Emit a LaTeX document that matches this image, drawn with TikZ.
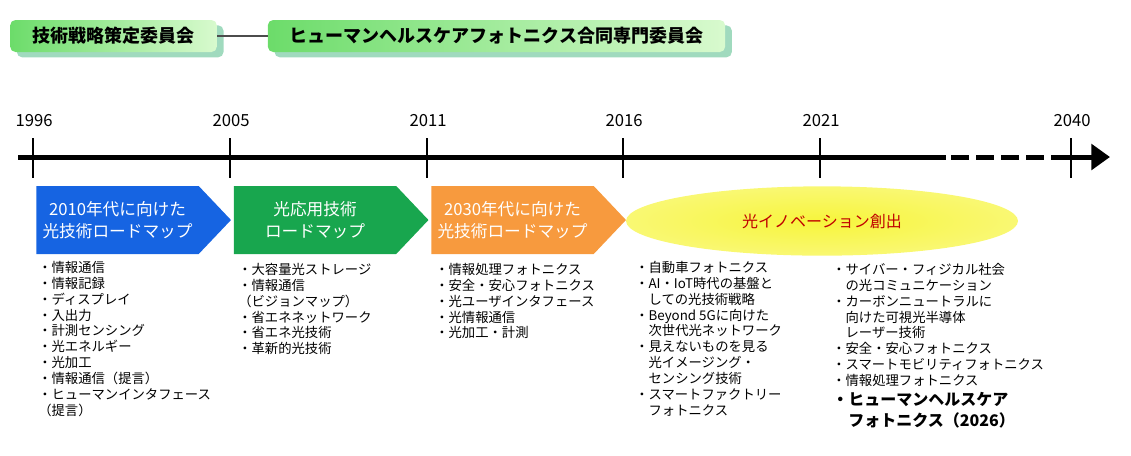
\documentclass[tikz,border=0pt]{standalone}
\usepackage{fontspec}
\setmainfont{Noto Sans CJK JP}
\usetikzlibrary{arrows.meta,positioning,shapes.geometric,shapes.symbols,shadows}

\definecolor{roadblue}{RGB}{22,100,226}
\definecolor{roadgreen}{RGB}{24,166,78}
\definecolor{roadorange}{RGB}{247,154,62}
\definecolor{boxgreenL}{RGB}{108,220,106}
\definecolor{boxgreenR}{RGB}{216,250,206}
\definecolor{boxshadow}{RGB}{160,218,190}
\definecolor{innoyellow}{RGB}{247,245,60}
\definecolor{innored}{RGB}{192,0,0}

\newcommand{\contind}{\phantom{・}}

\begin{document}
\begin{tikzpicture}[
        x=0.75pt, y=-0.75pt,
        committee/.style={rectangle, rounded corners=4pt, left color=boxgreenL, right color=boxgreenR,
            drop shadow={fill=boxshadow, opacity=1, shadow xshift=5pt, shadow yshift=-4pt},
            minimum height=24pt, inner sep=0pt, font=\fontsize{13.5}{16}\selectfont\bfseries},
        roadmap/.style={signal, signal to=east, signal pointer angle=93, minimum width=146pt,
            minimum height=51pt, inner sep=0pt, text=white, align=center,
            font=\fontsize{12.5}{17}\selectfont},
        yearlabel/.style={font=\fontsize{12.5}{14}\selectfont, inner sep=0pt},
        topics/.style={anchor=north west, align=left, inner sep=0pt, font=\fontsize{10}{11.9}\selectfont},
        axis/.style={line width=3.75pt},
        yeartick/.style={line width=2.2pt},
    ]
    \useasboundingbox (0,0) rectangle (1131,455);

    % === COMMITTEES ===
    \node[committee, minimum width=155pt] (techcom) at (113.5,36) {技術戦略策定委員会};
    \node[committee, minimum width=343pt] (hhcom) at (496.5,36) {ヒューマンヘルスケアフォトニクス合同専門委員会};
    \draw[gray!60!black, line width=0.8pt] (techcom.east) -- (hhcom.west);

    % === TIME AXIS ===
    \coordinate (axstart) at (18,157);
    \coordinate (axsolid) at (946,157);
    \coordinate (axdash) at (951,157);
    \coordinate (axdashend) at (1046,157);
    \coordinate (axlast) at (1051,157);
    \coordinate (axend) at (1110,157);
    \draw[axis] (axstart) -- (axsolid);
    \draw[axis, dash pattern=on 13.5pt off 5.25pt] (axdash) -- (axdashend);
    \draw[axis, -{Triangle[length=14pt, width=19pt]}] (axlast) -- (axend);

    \foreach \x/\yr in {33/1996, 230/2005, 427/2011, 623/2016, 820/2021, 1071/2040} {
        \coordinate (t\yr top) at (\x,138);
        \coordinate (t\yr bot) at (\x,178);
        \draw[yeartick] (t\yr top) -- (t\yr bot);
        \node[yearlabel] (y\yr) at (\x+1,121) {\yr};
    }

    % === ROADMAPS ===
    \node[roadmap, fill=roadblue] (roadA) at (117.5,220) {2010年代に向けた\\光技術ロードマップ};
    \node[roadmap, fill=roadgreen] (roadB) at (315,220) {光応用技術\\ロードマップ};
    \node[roadmap, fill=roadorange] (roadC) at (512.5,220) {2030年代に向けた\\光技術ロードマップ};
    \node[ellipse, minimum width=294pt, minimum height=52pt, inner sep=0pt,
        inner color=innoyellow, outer color=innoyellow!72!white,
        text=innored, font=\fontsize{12}{14}\selectfont] (innov) at (822,221) {光イノベーション創出};

    % === TOPICS ===
    \node[topics] (listA) at (38,261) {・情報通信\\・情報記録\\・ディスプレイ\\・入出力\\・計測センシング\\
        ・光エネルギー\\・光加工\\・情報通信（提言）\\・ヒューマンインタフェース\\（提言）};
    \node[topics] (listB) at (238,263) {・大容量光ストレージ\\・情報通信\\（ビジョンマップ）\\
        ・省エネネットワーク\\・省エネ光技術\\・革新的光技術};
    \node[topics] (listC) at (435,263) {・情報処理フォトニクス\\・安全・安心フォトニクス\\
        ・光ユーザインタフェース\\・光情報通信\\・光加工・計測};
    \node[topics] (listD) at (635,261) {・自動車フォトニクス\\・AI・IoT時代の基盤と\\\contind しての光技術戦略\\
        ・Beyond 5Gに向けた\\\contind 次世代光ネットワーク\\・見えないものを見る\\
        \contind 光イメージング・\\\contind センシング技術\\・スマートファクトリー\\\contind フォトニクス};
    \node[topics] (listE) at (832,263) {・サイバー・フィジカル社会\\\contind の光コミュニケーション\\
        ・カーボンニュートラルに\\\contind 向けた可視光半導体\\\contind レーザー技術\\
        ・安全・安心フォトニクス\\・スマートモビリティフォトニクス\\・情報処理フォトニクス};
    \node[topics, below=4pt of listE.south west, anchor=north west,
        font=\fontsize{12}{15.5}\selectfont\bfseries] (listEbold) {・ヒューマンヘルスケア\\\contind フォトニクス（2026）};

\end{tikzpicture}
\end{document}
